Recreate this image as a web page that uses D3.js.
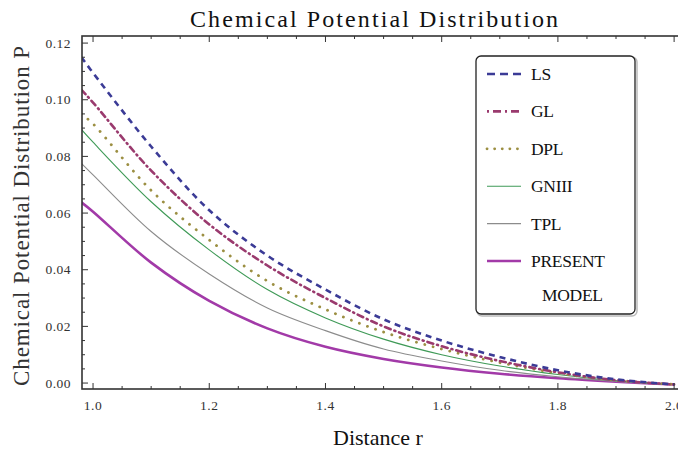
<!DOCTYPE HTML>
<html lang="en">
	<head>
		<meta charset="UTF-8">
		<style>
			body { margin: 0; background: #fff; }
			text { font-family: "Liberation Serif", "Times New Roman", serif; }
		</style>
	</head>
	<body>
		<script src="https://d3js.org/d3.v7.min.js"></script>
		<script>
			// data
			var distance = [0.98, 1.0, 1.1, 1.2, 1.3, 1.4, 1.5, 1.6, 1.7, 1.8, 1.9, 2.0]
			var LS      = [0.1150, 0.1095, 0.0835, 0.0610, 0.0450, 0.0330, 0.0225, 0.0150, 0.0092, 0.0045, 0.0013, -0.0005]
			var GL      = [0.1035, 0.0990, 0.0750, 0.0560, 0.0415, 0.0300, 0.0200, 0.0130, 0.0078, 0.0038, 0.0010, -0.0005]
			var DPL     = [0.0950, 0.0915, 0.0680, 0.0505, 0.0360, 0.0260, 0.0180, 0.0120, 0.0072, 0.0035, 0.0010, -0.0005]
			var GNIII   = [0.0895, 0.0850, 0.0640, 0.0470, 0.0330, 0.0230, 0.0155, 0.0100, 0.0060, 0.0030, 0.0008, -0.0005]
			var TPL     = [0.0775, 0.0735, 0.0535, 0.0385, 0.0265, 0.0185, 0.0120, 0.0078, 0.0045, 0.0022, 0.0006, -0.0005]
			var PRESENT = [0.0638, 0.0605, 0.0425, 0.0290, 0.0193, 0.0128, 0.0085, 0.0055, 0.0033, 0.0017, 0.0005, -0.0005]
			var seriesNames = ['LS', 'GL', 'DPL', 'GNIII', 'TPL', 'PRESENT']
			var xTicks = [1.0, 1.2, 1.4, 1.6, 1.8, 2.0]
			var yTicks = [0.00, 0.02, 0.04, 0.06, 0.08, 0.10, 0.12]

			var width = 678
				,height = 449
				,svg = d3.select('body').append('svg').attr('width', width).attr('height', height)
				,x = d3.scaleLinear().domain([0.981, 2.017]).range([82, 684])
				,y = d3.scaleLinear().domain([-0.0021, 0.1225]).range([389, 36])

			var styles = {
				LS:      { color: '#3b3b96', w: 2.6, dash: '6,5' },
				GL:      { color: '#9a3a6e', w: 2.6, dash: '6,4,1,4' },
				DPL:     { color: '#9c8f42', w: 2.8, dash: '0.1,8.5' },
				GNIII:   { color: '#3f9a57', w: 1.1, dash: null },
				TPL:     { color: '#8c8c8c', w: 1.1, dash: null },
				PRESENT: { color: '#a23aa8', w: 2.6, dash: null }
			}
			var values = { LS: LS, GL: GL, DPL: DPL, GNIII: GNIII, TPL: TPL, PRESENT: PRESENT }

			svg.append('defs').append('clipPath').attr('id', 'plot')
				.append('rect').attr('x', 82).attr('y', 36).attr('width', 602).attr('height', 353)

			// curves
			var line = d3.line()
				.x(function(d){ return x(d[0]) })
				.y(function(d){ return y(d[1]) })
				.curve(d3.curveCatmullRom.alpha(0.5))

			var curves = svg.append('g').attr('clip-path', 'url(#plot)')
			seriesNames.slice().reverse().forEach(function(name) {
				var s = styles[name]
				curves.append('path')
					.attr('d', line(d3.zip(distance, values[name])))
					.attr('fill', 'none')
					.attr('stroke', s.color)
					.attr('stroke-width', s.w)
					.attr('stroke-dasharray', s.dash)
					.attr('stroke-linecap', name == 'DPL' || name == 'GL' ? 'round' : 'butt')
			})

			// frame with inward ticks
			var frame = svg.append('g').attr('stroke', '#333').attr('fill', 'none')
			frame.append('rect').attr('x', 82).attr('y', 36).attr('width', 602).attr('height', 353).attr('stroke-width', 1.6)

			var xMinor = d3.range(1.0, 2.01, 0.05)
			xMinor.forEach(function(v) {
				var major = Math.abs(v * 5 - Math.round(v * 5)) < 1e-6
					,len = major ? 6 : 3
				frame.append('line').attr('x1', x(v)).attr('x2', x(v)).attr('y1', 389).attr('y2', 389 - len).attr('stroke-width', 1)
				frame.append('line').attr('x1', x(v)).attr('x2', x(v)).attr('y1', 36).attr('y2', 36 + len).attr('stroke-width', 1)
			})
			var yMinor = d3.range(0, 0.1201, 0.005)
			yMinor.forEach(function(v) {
				var major = Math.abs(v * 50 - Math.round(v * 50)) < 1e-6
					,len = major ? 6 : 3
				frame.append('line').attr('x1', 82).attr('x2', 82 + len).attr('y1', y(v)).attr('y2', y(v)).attr('stroke-width', 1)
			})

			// tick labels
			svg.append('g').selectAll('text').data(xTicks).enter().append('text')
				.attr('x', function(d){ return x(d) })
				.attr('y', 410)
				.attr('text-anchor', 'middle')
				.attr('font-size', 13.5)
				.attr('letter-spacing', 0.5)
				.attr('fill', '#333')
				.text(function(d){ return d.toFixed(1) })

			svg.append('g').selectAll('text').data(yTicks).enter().append('text')
				.attr('x', 71)
				.attr('y', function(d){ return y(d) + 4.5 })
				.attr('text-anchor', 'end')
				.attr('font-size', 13.5)
				.attr('letter-spacing', 0.5)
				.attr('fill', '#333')
				.text(function(d){ return d.toFixed(2) })

			// titles
			svg.append('text')
				.attr('x', 190).attr('y', 27)
				.attr('font-size', 24)
				.attr('textLength', 368).attr('lengthAdjust', 'spacing')
				.attr('fill', '#111')
				.text('Chemical Potential Distribution')

			svg.append('text')
				.attr('x', 333).attr('y', 445)
				.attr('font-size', 22)
				.attr('fill', '#111')
				.text('Distance r')

			svg.append('text')
				.attr('transform', 'translate(29,386) rotate(-90)')
				.attr('font-size', 23)
				.attr('textLength', 340).attr('lengthAdjust', 'spacing')
				.attr('fill', '#333')
				.text('Chemical Potential Distribution  P')

			// legend
			var legend = svg.append('g')
			legend.append('rect')
				.attr('x', 477).attr('y', 57).attr('width', 160).attr('height', 259).attr('rx', 5)
				.attr('fill', 'none').attr('stroke', '#bbb').attr('stroke-width', 1.5)
			legend.append('rect')
				.attr('x', 476).attr('y', 56).attr('width', 159).attr('height', 258).attr('rx', 5)
				.attr('fill', '#fff').attr('stroke', '#222').attr('stroke-width', 1.3)

			var rowY = d3.scalePoint().domain(seriesNames).range([74, 261])
			seriesNames.forEach(function(name) {
				var s = styles[name]
				legend.append('line')
					.attr('x1', 487).attr('x2', 521)
					.attr('y1', rowY(name)).attr('y2', rowY(name))
					.attr('stroke', s.color)
					.attr('stroke-width', s.w)
					.attr('stroke-dasharray', name == 'LS' ? '8,5' : name == 'GL' ? '2,4,8,4' : name == 'DPL' ? '0.1,7.5' : s.dash)
					.attr('stroke-linecap', name == 'DPL' ? 'round' : 'butt')
				legend.append('text')
					.attr('x', 531).attr('y', rowY(name) + 6)
					.attr('font-size', 17.5)
					.attr('letter-spacing', -0.3)
					.attr('fill', '#111')
					.text(name)
			})
			legend.append('text')
				.attr('x', 542).attr('y', rowY('PRESENT') + 40)
				.attr('font-size', 17.5)
				.attr('letter-spacing', -0.3)
				.attr('fill', '#111')
				.text('MODEL')
		</script>
	</body>
</html>
